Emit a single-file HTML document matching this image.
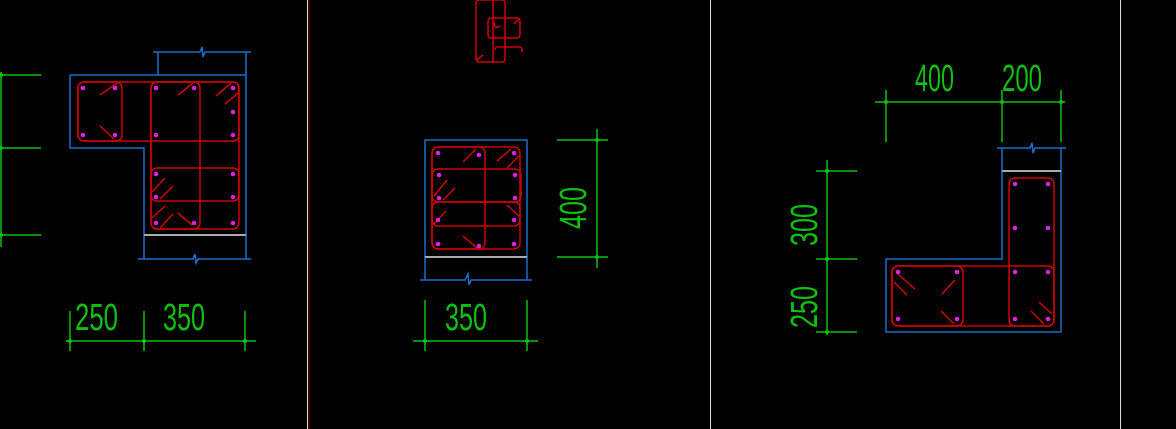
<!DOCTYPE html>
<html><head><meta charset="utf-8"><style>
html,body{margin:0;padding:0;background:#000;}
svg{display:block;}
text{font-family:"Liberation Sans",sans-serif;fill:#10c010;}
</style></head><body>
<svg width="1176" height="429" viewBox="0 0 1176 429" xmlns="http://www.w3.org/2000/svg">
<rect width="1176" height="429" fill="#000"/>
<!-- separators -->
<line x1="307.5" y1="0" x2="307.5" y2="429" stroke="#ddd" stroke-width="1"/>
<line x1="309" y1="0" x2="309" y2="429" stroke="#700" stroke-width="1"/>
<line x1="710.5" y1="0" x2="710.5" y2="429" stroke="#ddd" stroke-width="1"/>
<line x1="1120.5" y1="0" x2="1120.5" y2="429" stroke="#ddd" stroke-width="1"/>

<g fill="none" stroke-width="1.5">
<!-- ===== LEFT ===== -->
<g stroke="#10c010">
<line x1="1" y1="72" x2="1" y2="247"/>
<line x1="0" y1="75" x2="41" y2="75"/>
<line x1="0" y1="148" x2="41" y2="148"/>
<line x1="0" y1="235" x2="41" y2="235"/>
<line x1="66" y1="341" x2="256" y2="341"/>
<line x1="70" y1="311" x2="70" y2="351"/>
<line x1="144" y1="311" x2="144" y2="351"/>
<line x1="245" y1="311" x2="245" y2="351"/>
</g>
<g stroke="#1a6fd0">
<polyline points="70,75 246,75"/>
<polyline points="70,75 70,148 144,148 144,259"/>
<line x1="246" y1="52" x2="246" y2="259"/>
<line x1="158" y1="52" x2="158" y2="75"/>
<polyline points="153,52 200,52 202,47 203,57 205,52 251,52"/>
<polyline points="138,259 193,259 195,254 196,263 198,259 251,259"/>
</g>
<line x1="144" y1="235" x2="246" y2="235" stroke="#aaa" stroke-width="2"/>
<g stroke="#d00000">
<rect x="78" y="82" width="161" height="59" rx="6"/>
<rect x="78" y="82" width="44" height="59" rx="6"/>
<rect x="151" y="82" width="88" height="147" rx="6"/>
<rect x="151" y="82" width="49" height="147" rx="6"/>
<rect x="151" y="168" width="88" height="33" rx="6"/>
<line x1="100" y1="95" x2="117" y2="83"/><line x1="100" y1="126" x2="114" y2="139"/>
<line x1="178" y1="95" x2="193" y2="83"/><line x1="216" y1="96" x2="231" y2="83"/><line x1="225" y1="104" x2="238" y2="93"/>
<line x1="152" y1="192" x2="165" y2="178"/><line x1="160" y1="199" x2="173" y2="186"/>
<line x1="152" y1="218" x2="165" y2="206"/><line x1="160" y1="228" x2="173" y2="214"/><line x1="178" y1="213" x2="192" y2="225"/>
</g>
<g fill="#e020e0" stroke="none">
<circle cx="83" cy="88" r="2.3"/><circle cx="115" cy="88" r="2.3"/><circle cx="156" cy="88" r="2.3"/><circle cx="194" cy="88" r="2.3"/><circle cx="233" cy="88" r="2.3"/><circle cx="233" cy="112" r="2.3"/>
<circle cx="83" cy="135" r="2.3"/><circle cx="115" cy="135" r="2.3"/><circle cx="156" cy="135" r="2.3"/><circle cx="233" cy="135" r="2.3"/>
<circle cx="156" cy="174" r="2.3"/><circle cx="233" cy="174" r="2.3"/><circle cx="156" cy="197" r="2.3"/><circle cx="233" cy="197" r="2.3"/>
<circle cx="156" cy="223" r="2.3"/><circle cx="194" cy="223" r="2.3"/><circle cx="233" cy="223" r="2.3"/>
</g>

<!-- ===== MIDDLE ===== -->
<g stroke="#d00000">
<rect x="476" y="0" width="29" height="62" rx="3"/>
<rect x="488" y="18" width="32" height="20" rx="3"/>
<path d="M494 22 Q494 30 500 26"/><path d="M495 50 Q495 46 500 47 L519 47 Q523 47 522 52"/>
<line x1="477" y1="60" x2="483" y2="55"/><line x1="514" y1="24" x2="519" y2="19"/>
<line x1="493" y1="0" x2="493" y2="62"/>
</g>
<g stroke="#1a6fd0">
<polyline points="425,280 425,140 527,140 527,280"/>
<polyline points="420,280 465,280 468,274 469,285 471,280 532,280"/>
</g>
<line x1="425" y1="257" x2="527" y2="257" stroke="#aaa" stroke-width="2"/>
<g stroke="#d00000">
<rect x="432" y="147" width="88" height="102" rx="6"/>
<rect x="432" y="147" width="53" height="102" rx="6"/>
<rect x="432" y="169" width="89" height="33" rx="6"/>
<rect x="432" y="202" width="88" height="24" rx="6"/>
<line x1="463" y1="162" x2="476" y2="149"/><line x1="497" y1="161" x2="511" y2="149"/><line x1="507" y1="168" x2="519" y2="156"/>
<line x1="434" y1="196" x2="447" y2="180"/><line x1="443" y1="200" x2="455" y2="188"/>
<line x1="434" y1="224" x2="446" y2="211"/><line x1="507" y1="205" x2="520" y2="217"/><line x1="463" y1="236" x2="477" y2="248"/>
</g>
<g fill="#e020e0" stroke="none">
<circle cx="438" cy="153" r="2.3"/><circle cx="479" cy="155" r="2.3"/><circle cx="514" cy="153" r="2.3"/>
<circle cx="439" cy="175" r="2.3"/><circle cx="515" cy="175" r="2.3"/><circle cx="439" cy="198" r="2.3"/><circle cx="515" cy="198" r="2.3"/>
<circle cx="438" cy="220" r="2.3"/><circle cx="514" cy="220" r="2.3"/><circle cx="438" cy="244" r="2.3"/><circle cx="479" cy="246" r="2.3"/><circle cx="514" cy="244" r="2.3"/>
</g>
<g stroke="#10c010">
<line x1="597" y1="129" x2="597" y2="268"/>
<line x1="557" y1="140" x2="608" y2="140"/>
<line x1="557" y1="257" x2="608" y2="257"/>
<line x1="413" y1="341" x2="538" y2="341"/>
<line x1="425" y1="300" x2="425" y2="351"/>
<line x1="527" y1="300" x2="527" y2="351"/>
</g>

<!-- ===== RIGHT ===== -->
<g stroke="#10c010">
<line x1="875" y1="102" x2="1065" y2="102"/>
<line x1="886" y1="90" x2="886" y2="142"/>
<line x1="1002" y1="90" x2="1002" y2="142"/>
<line x1="1061" y1="90" x2="1061" y2="142"/>
<line x1="827" y1="160" x2="827" y2="335"/>
<line x1="816" y1="171" x2="857" y2="171"/>
<line x1="816" y1="259" x2="857" y2="259"/>
<line x1="816" y1="332" x2="857" y2="332"/>
</g>
<g stroke="#1a6fd0">
<polyline points="1002,148 1002,259 886,259 886,332 1061,332 1061,148"/>
<polyline points="997,148 1030,148 1032,143 1033,153 1035,148 1066,148"/>
</g>
<line x1="1002" y1="171" x2="1061" y2="171" stroke="#aaa" stroke-width="2"/>
<g stroke="#d00000">
<rect x="1009" y="178" width="45" height="148" rx="6"/>
<rect x="892" y="266" width="162" height="60" rx="6"/>
<rect x="892" y="266" width="71" height="60" rx="6"/>
<line x1="898" y1="274" x2="915" y2="289"/><line x1="894" y1="282" x2="907" y2="295"/>
<line x1="942" y1="294" x2="955" y2="280"/><line x1="941" y1="311" x2="954" y2="324"/>
<line x1="1031" y1="311" x2="1044" y2="324"/><line x1="1039" y1="302" x2="1052" y2="314"/>
</g>
<g fill="#e020e0" stroke="none">
<circle cx="1015" cy="184" r="2.3"/><circle cx="1048" cy="184" r="2.3"/><circle cx="1015" cy="228" r="2.3"/><circle cx="1048" cy="228" r="2.3"/>
<circle cx="1015" cy="272" r="2.3"/><circle cx="1048" cy="272" r="2.3"/><circle cx="898" cy="272" r="2.3"/><circle cx="957" cy="272" r="2.3"/>
<circle cx="898" cy="319" r="2.3"/><circle cx="957" cy="319" r="2.3"/><circle cx="1015" cy="319" r="2.3"/><circle cx="1048" cy="319" r="2.3"/>
</g>
</g>

<!-- green dims dots -->
<g fill="#10c010">
<circle cx="70" cy="341" r="2"/><circle cx="144" cy="341" r="2"/><circle cx="245" cy="341" r="2"/>
<circle cx="1" cy="75" r="2"/><circle cx="1" cy="148" r="2"/><circle cx="1" cy="235" r="2"/>
<circle cx="425" cy="341" r="2"/><circle cx="527" cy="341" r="2"/><circle cx="597" cy="140" r="2"/><circle cx="597" cy="257" r="2"/>
<circle cx="886" cy="102" r="2"/><circle cx="1002" cy="102" r="2"/><circle cx="1061" cy="102" r="2"/>
<circle cx="827" cy="171" r="2"/><circle cx="827" cy="259" r="2"/><circle cx="827" cy="332" r="2"/>
</g>

<!-- texts -->
<text x="75" y="330" font-size="38" textLength="43" lengthAdjust="spacingAndGlyphs">250</text>
<text x="163" y="330" font-size="38" textLength="42" lengthAdjust="spacingAndGlyphs">350</text>
<text x="445" y="330" font-size="38" textLength="42" lengthAdjust="spacingAndGlyphs">350</text>
<text x="915" y="91" font-size="38" textLength="39" lengthAdjust="spacingAndGlyphs">400</text>
<text x="1002" y="91" font-size="38" textLength="40" lengthAdjust="spacingAndGlyphs">200</text>
<text transform="translate(586,229) rotate(-90)" font-size="38" textLength="42" lengthAdjust="spacingAndGlyphs">400</text>
<text transform="translate(817,246) rotate(-90)" font-size="38" textLength="42" lengthAdjust="spacingAndGlyphs">300</text>
<text transform="translate(817,328) rotate(-90)" font-size="38" textLength="42" lengthAdjust="spacingAndGlyphs">250</text>
</svg>
</body></html>
